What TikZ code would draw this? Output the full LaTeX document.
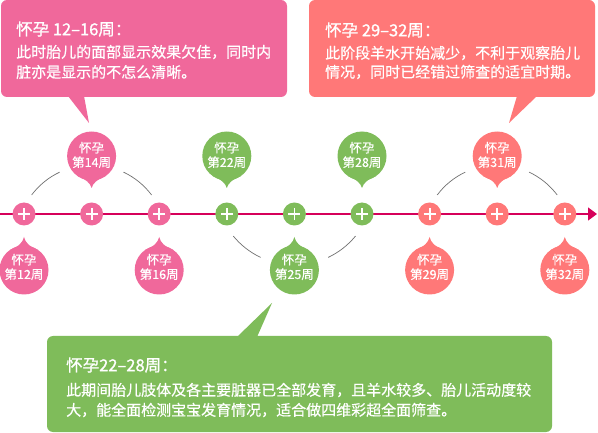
\documentclass[tikz,border=0pt]{standalone}
\usepackage{fontspec}
\setmainfont{Noto Sans CJK SC}
\newfontfamily\cjkbold[FakeBold=1.2]{Noto Sans CJK SC}
\newfontfamily\cjkmed[FakeBold=0.5]{Noto Sans CJK SC}
\usetikzlibrary{arrows.meta}
\definecolor{cpink}{HTML}{F0689B}
\definecolor{cgreen}{HTML}{7FBC5A}
\definecolor{ccoral}{HTML}{FF7878}
\definecolor{cline}{HTML}{D6005A}
\definecolor{carc}{HTML}{707070}
\begin{document}
\begin{tikzpicture}[x=1pt,y=-1pt,
  tl/.style={draw=cline,line width=1.3pt},
  arcline/.style={draw=carc,line width=0.7pt},
  dot/.style={circle,fill=#1,minimum size=23pt,inner sep=0pt,
    path picture={\draw[white,line width=1.8pt] ([xshift=-6pt]path picture bounding box.center) -- ([xshift=6pt]path picture bounding box.center);
                  \draw[white,line width=1.8pt] ([yshift=-6pt]path picture bounding box.center) -- ([yshift=6pt]path picture bounding box.center);}},
  bubtext/.style={text=white,font=\cjkmed\fontsize{12.5pt}{14.5pt}\selectfont,align=center,inner sep=0pt},
  titletext/.style={text=white,font=\cjkbold\fontsize{16.5pt}{18pt}\selectfont,anchor=west,inner sep=0pt},
  bodytext/.style={text=white,font=\cjkmed\fontsize{15pt}{20pt}\selectfont,anchor=west,inner sep=0pt},
  pics/dropup/.style n args={3}{code={
    \fill[#1] (0,0) circle[radius=24.5pt];
    \fill[#1] (-14,20) .. controls (-5,24) and (-1.5,27) .. (0,32) .. controls (1.5,27) and (5,24) .. (14,20) -- cycle;
    \node[bubtext] (-txt) at (0,-1) {#2\\#3};
  }},
  pics/dropdown/.style n args={3}{code={
    \fill[#1] (0,0) circle[radius=24.5pt];
    \fill[#1] (-14,-20) .. controls (-5,-24) and (-1.5,-27) .. (0,-33) .. controls (1.5,-27) and (5,-24) .. (14,-20) -- cycle;
    \node[bubtext] (-txt) at (0,-3) {#2\\#3};
  }}]
\useasboundingbox (0,0) rectangle (598,433);
\fill[white] (0,0) rectangle (598,433);

% timeline
\coordinate (tstart) at (0,214);
\coordinate (tend) at (597,214);
\draw[tl,-{Triangle[length=9pt,width=13pt]}] (tstart) -- (tend);

% arcs
\draw[arcline] ([shift={(143.1:75pt)}]91.6,240) arc[start angle=143.1,end angle=115.2,radius=75pt];
\draw[arcline] ([shift={(64.8:75pt)}]91.6,240) arc[start angle=64.8,end angle=36.9,radius=75pt];
\draw[arcline] ([shift={(143.1:75pt)}]497.2,240) arc[start angle=143.1,end angle=115.2,radius=75pt];
\draw[arcline] ([shift={(64.8:75pt)}]497.2,240) arc[start angle=64.8,end angle=36.9,radius=75pt];
\draw[arcline] ([shift={(219.3:79pt)}]294.4,186) arc[start angle=219.3,end angle=244.7,radius=79pt];
\draw[arcline] ([shift={(295.3:79pt)}]294.4,186) arc[start angle=295.3,end angle=320.7,radius=79pt];

% dots
\node[dot=cpink] (d0) at (24,214) {};
\node[dot=cpink] (d1) at (91.6,214) {};
\node[dot=cpink] (d2) at (159.2,214) {};
\node[dot=cgreen] (d3) at (226.8,214) {};
\node[dot=cgreen] (d4) at (294.4,214) {};
\node[dot=cgreen] (d5) at (362,214) {};
\node[dot=ccoral] (d6) at (429.6,214) {};
\node[dot=ccoral] (d7) at (497.2,214) {};
\node[dot=ccoral] (d8) at (564.8,214) {};

% bubbles
\pic (b12) at (24,270) {dropdown={cpink}{怀孕}{第12周}};
\pic (b14) at (91.6,156) {dropup={cpink}{怀孕}{第14周}};
\pic (b16) at (159.2,270) {dropdown={cpink}{怀孕}{第16周}};
\pic (b22) at (226.8,156) {dropup={cgreen}{怀孕}{第22周}};
\pic (b25) at (294.4,270) {dropdown={cgreen}{怀孕}{第25周}};
\pic (b28) at (362,156) {dropup={cgreen}{怀孕}{第28周}};
\pic (b29) at (429.6,270) {dropdown={ccoral}{怀孕}{第29周}};
\pic (b31) at (497.2,156) {dropup={ccoral}{怀孕}{第31周}};
\pic (b32) at (564.8,270) {dropdown={ccoral}{怀孕}{第32周}};

% box 1
\fill[cpink,rounded corners=6pt] (1,0) rectangle (287,97);
\fill[cpink] (68,96) -- (89,123) -- (84,96) -- cycle;
\node[titletext] (t1) at (16,29) {怀孕 12–16周：};
\node[bodytext] (p1a) at (16,52) {此时胎儿的面部显示效果欠佳，同时内};
\node[bodytext] (p1b) at (16,72) {脏亦是显示的不怎么清晰。};

% box 2
\fill[ccoral,rounded corners=6pt] (309,0) rectangle (595,97);
\fill[ccoral] (517,96) -- (509,123) -- (537,96) -- cycle;
\node[titletext] (t2) at (325,30) {怀孕 29–32周：};
\node[bodytext] (p2a) at (325,53) {此阶段羊水开始减少，不利于观察胎儿};
\node[bodytext] (p2b) at (325,72) {情况，同时已经错过筛查的适宜时期。};

% box 3
\fill[cgreen,rounded corners=6pt] (47,336) rectangle (552,432);
\fill[cgreen] (237,337) -- (272,303) -- (257,337) -- cycle;
\node[titletext] (t3) at (66,365) {怀孕22–28周：};
\node[bodytext] (p3a) at (66,390) {此期间胎儿肢体及各主要脏器已全部发育，且羊水较多、胎儿活动度较};
\node[bodytext] (p3b) at (66,410) {大，能全面检测宝宝发育情况，适合做四维彩超全面筛查。};
\end{tikzpicture}
\end{document}
